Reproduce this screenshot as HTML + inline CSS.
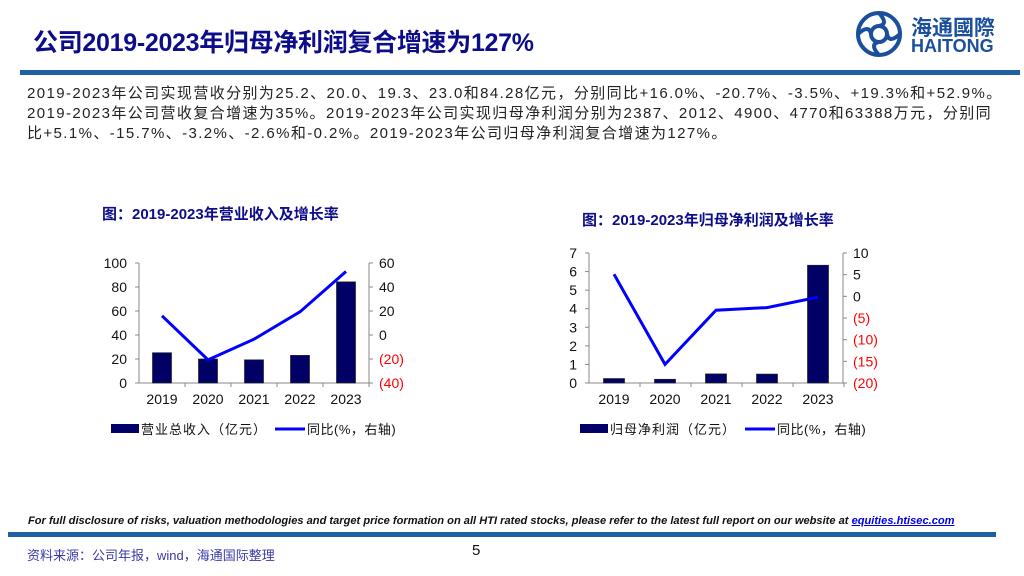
<!DOCTYPE html>
<html><head><meta charset="utf-8"><style>
body{margin:0;width:1024px;height:576px;background:#fff;overflow:hidden;position:relative;font-family:"Liberation Sans","Noto Sans CJK SC",sans-serif}
.a{position:absolute;white-space:nowrap}
</style></head><body>
<div class="a" style="left:33px;top:23px;font-size:25px;font-weight:bold;color:#0d0d8a;letter-spacing:-0.3px">公司2019-2023年归母净利润复合增速为127%</div>
<div class="a" style="left:855px;top:10px;width:170px;height:48px">
<svg width="50" height="48" viewBox="0 0 50 48"><circle cx="24" cy="24" r="21" fill="none" stroke="#1b4f9c" stroke-width="4"/><circle cx="24" cy="24" r="8" fill="none" stroke="#1b4f9c" stroke-width="4"/><path d="M24 3 Q34 14 24 16 M45 24 Q34 34 32 24 M24 45 Q14 34 24 32 M3 24 Q14 14 16 24" fill="none" stroke="#1b4f9c" stroke-width="4"/></svg>
<div class="a" style="left:56px;top:2px;font-size:21px;color:#1b4f9c;font-weight:bold">海通國際</div>
<div class="a" style="left:56px;top:26px;font-size:18px;color:#1b4f9c;font-weight:bold">HAITONG</div>
</div>
<div class="a" style="left:20px;top:70px;width:1000px;height:5px;background:#1f5fa8"></div>
<div class="a" style="left:27px;top:84px;font-size:15px;letter-spacing:1.4px;line-height:20px;color:#222">2019-2023年公司实现营收分别为25.2、20.0、19.3、23.0和84.28亿元，分别同比+16.0%、-20.7%、-3.5%、+19.3%和+52.9%。<br>2019-2023年公司营收复合增速为35%。2019-2023年公司实现归母净利润分别为2387、2012、4900、4770和63388万元，分别同<br>比+5.1%、-15.7%、-3.2%、-2.6%和-0.2%。2019-2023年公司归母净利润复合增速为127%。</div>

<svg class="a" style="left:0;top:0" width="1024" height="576" id="ch"></svg>

<div class="a" style="left:28px;top:515px;font-size:11.1px;font-style:italic;font-weight:bold;color:#111">For full disclosure of risks, valuation methodologies and target price formation on all HTI rated stocks, please refer to the latest full report on our website at <span style="color:#0000ee;text-decoration:underline">equities.htisec.com</span></div>
<div class="a" style="left:8px;top:532px;width:988px;height:5px;background:#1f5fa8"></div>
<div class="a" style="left:27px;top:545px;font-size:13px;color:#3a3aa8">资料来源：公司年报，wind，海通国际整理</div>
<div class="a" style="left:472px;top:542px;font-size:15px;color:#111">5</div>

<script>
const years=["2019","2020","2021","2022","2023"];
const revenue=[25.2,20.0,19.3,23.0,84.28];
const revenueYoY=[16.0,-20.7,-3.5,19.3,52.9];
const profit=[0.24,0.20,0.49,0.48,6.34];
const profitYoY=[5.1,-15.7,-3.2,-2.6,-0.2];
const revLeftTicks=[0,20,40,60,80,100];
const revRightTicks=[-40,-20,0,20,40,60];
const profLeftTicks=[0,1,2,3,4,5,6,7];
const profRightTicks=[-20,-15,-10,-5,0,5,10];

const svg=document.getElementById('ch');const NS='http://www.w3.org/2000/svg';
function el(t,a,txt){const e=document.createElementNS(NS,t);for(const k in a)e.setAttribute(k,a[k]);if(txt!==undefined)e.textContent=txt;svg.appendChild(e);return e;}
function fmt(v){return v<0?'('+(-v)+')':''+v;}
function chart(o){
  const yL=v=>o.y0-(v-o.lmin)/(o.lmax-o.lmin)*(o.y0-o.y1);
  const yR=v=>o.y0-(v-o.rmin)/(o.rmax-o.rmin)*(o.y0-o.y1);
  const xC=i=>o.cx0+i*o.dx;
  let e=el('text',{x:o.tx,y:o.ty,'font-size':15,'font-weight':'bold',fill:'#0d0d8a'},o.title);
  
  el('line',{x1:o.xl,y1:o.y1,x2:o.xl,y2:o.y0,stroke:'#888'});
  el('line',{x1:o.xr,y1:o.y1,x2:o.xr,y2:o.y0,stroke:'#888'});
  el('line',{x1:o.xl,y1:o.y0,x2:o.xr,y2:o.y0,stroke:'#888'});
  o.lt.forEach(v=>{const y=yL(v);el('line',{x1:o.xl-4,y1:y,x2:o.xl,y2:y,stroke:'#888'});
    e=el('text',{x:o.xl-12,y:y+5,'font-size':14,'text-anchor':'end',fill:'#111'},v);});
  o.rt.forEach(v=>{const y=yR(v);el('line',{x1:o.xr,y1:y,x2:o.xr+4,y2:y,stroke:'#888'});
    e=el('text',{x:o.xr+10,y:y+5,'font-size':14,fill:v<0?'#f00':'#111'},fmt(v));});
  years.forEach((c,i)=>{const x=xC(i);
    el('line',{x1:o.xl+(i+1)*o.dx,y1:o.y0,x2:o.xl+(i+1)*o.dx,y2:o.y0+4,stroke:'#888'});
    e=el('text',{x:x,y:o.y0+21,'font-size':14,'text-anchor':'middle',fill:'#111'},c);
    const yb=yL(o.bars[i]);
    e=el('rect',{x:x-o.bw/2,y:yb,width:o.bw,height:o.y0-yb,fill:'#000066',stroke:'#222','stroke-width':0.7});});
  e=el('polyline',{points:o.line.map((v,i)=>xC(i)+','+yR(v)).join(' '),fill:'none',stroke:'#0000ff','stroke-width':3});
  
  const ly=o.y0+46;
  e=el('rect',{x:o.lgx,y:ly-5,width:28,height:9,fill:'#000066'});
  e=el('text',{x:o.lgx+30,y:ly+5,'font-size':13,fill:'#111','letter-spacing':1},o.barName);
  e=el('line',{x1:o.lgx2,y1:ly,x2:o.lgx2+30,y2:ly,stroke:'#0000ff','stroke-width':3});
  e=el('text',{x:o.lgx2+32,y:ly+5,'font-size':13,fill:'#111','letter-spacing':0.5},'同比(%，右轴)');
}
chart({id:'revenue-chart',title:'图：2019-2023年营业收入及增长率',tx:102,ty:219,xl:139,xr:369,y0:383,y1:263,lmin:0,lmax:100,rmin:-40,rmax:60,cx0:162,dx:46,bw:19,bars:revenue,line:revenueYoY,lt:revLeftTicks,rt:revRightTicks,lgx:111,lgx2:275,barName:'营业总收入（亿元）'});
chart({id:'profit-chart',title:'图：2019-2023年归母净利润及增长率',tx:582,ty:225,xl:589,xr:843,y0:383,y1:253,lmin:0,lmax:7,rmin:-20,rmax:10,cx0:614,dx:51,bw:21,bars:profit,line:profitYoY,lt:profLeftTicks,rt:profRightTicks,lgx:580,lgx2:745,barName:'归母净利润（亿元）'});
</script>
</body></html>
